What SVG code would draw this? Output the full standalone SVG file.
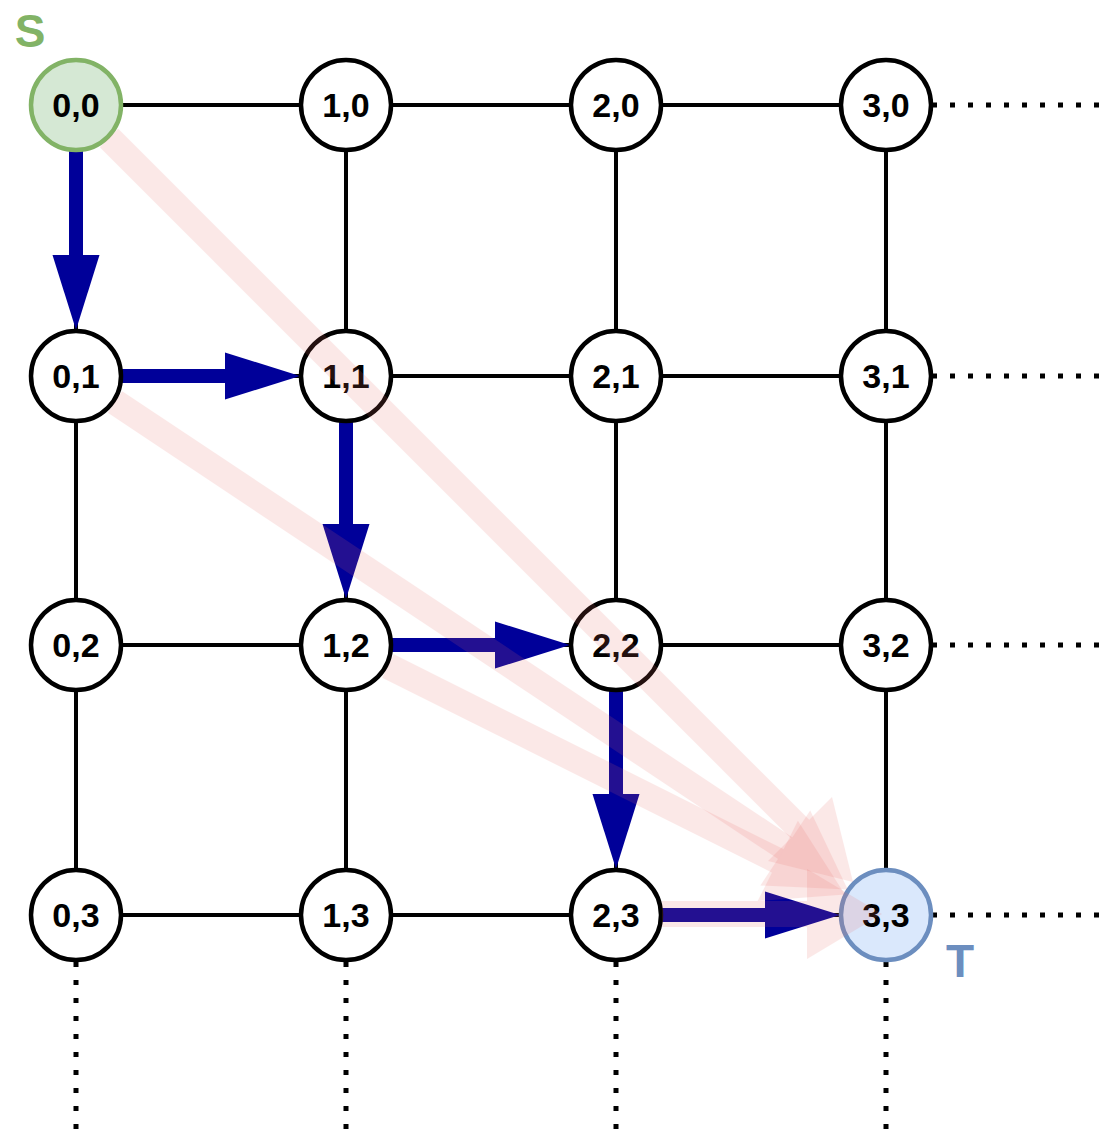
<svg xmlns="http://www.w3.org/2000/svg" width="1116" height="1146" viewBox="0 0 1116 1146">
<style>
.edge{stroke:#000;stroke-width:4;fill:none}
.dot{stroke:#000;stroke-width:5;fill:none;stroke-dasharray:5 13}
.node circle{fill:#fff;stroke:#000;stroke-width:4.5}
.node text{font-family:"Liberation Sans",Arial,sans-serif;font-weight:bold;font-size:34px;text-anchor:middle;fill:#000}
.blue line{stroke:#000099;stroke-width:14}
.blue polygon{fill:#000099}
.pink{opacity:0.15}
.pink line{stroke:#EA6B66;stroke-width:26}
.pink polygon{fill:#EA6B66}
.lbl{font-family:"Liberation Sans",Arial,sans-serif;font-weight:bold;font-size:46px;text-anchor:middle}
</style>
<rect width="1116" height="1146" fill="#fff"/>
<g id="connectors">
  <g id="grid-edges">
    <line class="edge" x1="76" y1="105" x2="886" y2="105"/>
    <line class="edge" x1="76" y1="376" x2="886" y2="376"/>
    <line class="edge" x1="76" y1="645" x2="886" y2="645"/>
    <line class="edge" x1="76" y1="915" x2="886" y2="915"/>
    <line class="edge" x1="76" y1="105" x2="76" y2="915"/>
    <line class="edge" x1="346" y1="105" x2="346" y2="915"/>
    <line class="edge" x1="616" y1="105" x2="616" y2="915"/>
    <line class="edge" x1="886" y1="105" x2="886" y2="915"/>
  </g>
  <g id="dotted">
    <line class="dot" x1="932" y1="105" x2="1102" y2="105"/>
    <line class="dot" x1="932" y1="376" x2="1102" y2="376"/>
    <line class="dot" x1="932" y1="645" x2="1102" y2="645"/>
    <line class="dot" x1="932" y1="915" x2="1102" y2="915"/>
    <line class="dot" x1="76" y1="962" x2="76" y2="1132"/>
    <line class="dot" x1="346" y1="962" x2="346" y2="1132"/>
    <line class="dot" x1="616" y1="962" x2="616" y2="1132"/>
    <line class="dot" x1="886" y1="962" x2="886" y2="1132"/>
  </g>
</g>
<g id="blue-path" class="blue">
  <line x1="76" y1="150" x2="76" y2="257"/><polygon points="52.5,255 99.5,255 76,330"/>
  <line x1="121" y1="376" x2="227" y2="376"/><polygon points="225,352.5 225,399.5 300,376"/>
  <line x1="346" y1="421" x2="346" y2="526"/><polygon points="322.5,524 369.5,524 346,599"/>
  <line x1="391" y1="645" x2="497" y2="645"/><polygon points="495,621.5 495,668.5 570,645"/>
  <line x1="616" y1="690" x2="616" y2="796"/><polygon points="592.5,794 639.5,794 616,869"/>
  <line x1="661" y1="915" x2="767" y2="915"/><polygon points="765,891.5 765,938.5 840,915"/>
</g>
<g id="nodes">
  <g id="n00" class="node"><circle cx="76" cy="105" r="45" style="fill:#D5E8D4;stroke:#82B366"/><text x="76" y="117">0,0</text></g>
  <g id="n10" class="node"><circle cx="346" cy="105" r="45"/><text x="346" y="117">1,0</text></g>
  <g id="n20" class="node"><circle cx="616" cy="105" r="45"/><text x="616" y="117">2,0</text></g>
  <g id="n30" class="node"><circle cx="886" cy="105" r="45"/><text x="886" y="117">3,0</text></g>
  <g id="n01" class="node"><circle cx="76" cy="376" r="45"/><text x="76" y="388">0,1</text></g>
  <g id="n11" class="node"><circle cx="346" cy="376" r="45"/><text x="346" y="388">1,1</text></g>
  <g id="n21" class="node"><circle cx="616" cy="376" r="45"/><text x="616" y="388">2,1</text></g>
  <g id="n31" class="node"><circle cx="886" cy="376" r="45"/><text x="886" y="388">3,1</text></g>
  <g id="n02" class="node"><circle cx="76" cy="645" r="45"/><text x="76" y="657">0,2</text></g>
  <g id="n12" class="node"><circle cx="346" cy="645" r="45"/><text x="346" y="657">1,2</text></g>
  <g id="n22" class="node"><circle cx="616" cy="645" r="45"/><text x="616" y="657">2,2</text></g>
  <g id="n32" class="node"><circle cx="886" cy="645" r="45"/><text x="886" y="657">3,2</text></g>
  <g id="n03" class="node"><circle cx="76" cy="915" r="45"/><text x="76" y="927">0,3</text></g>
  <g id="n13" class="node"><circle cx="346" cy="915" r="45"/><text x="346" y="927">1,3</text></g>
  <g id="n23" class="node"><circle cx="616" cy="915" r="45"/><text x="616" y="927">2,3</text></g>
  <g id="n33" class="node"><circle cx="886" cy="915" r="45" style="fill:#DAE8FC;stroke:#6C8EBF"/><text x="886" y="927">3,3</text></g>
</g>
<g id="pink-paths">
  <g class="pink"><line x1="109" y1="138" x2="801" y2="830"/><polygon points="832,797 768,861 853,882"/></g>
  <g class="pink"><line x1="115" y1="402" x2="786.5" y2="849"/><polygon points="810.2,810.5 760.4,885.5 847.7,889.5"/></g>
  <g class="pink"><line x1="388" y1="666" x2="779" y2="861.5"/><polygon points="797.9,820.7 757.7,901.1 844.9,894.4"/></g>
  <g class="pink"><line x1="662" y1="914" x2="808" y2="914"/><polygon points="807,869 807,959 882,914"/></g>
</g>
<text class="lbl" x="30" y="47" fill="#82B366">S</text>
<text class="lbl" x="960" y="977" fill="#6C8EBF">T</text>
</svg>
